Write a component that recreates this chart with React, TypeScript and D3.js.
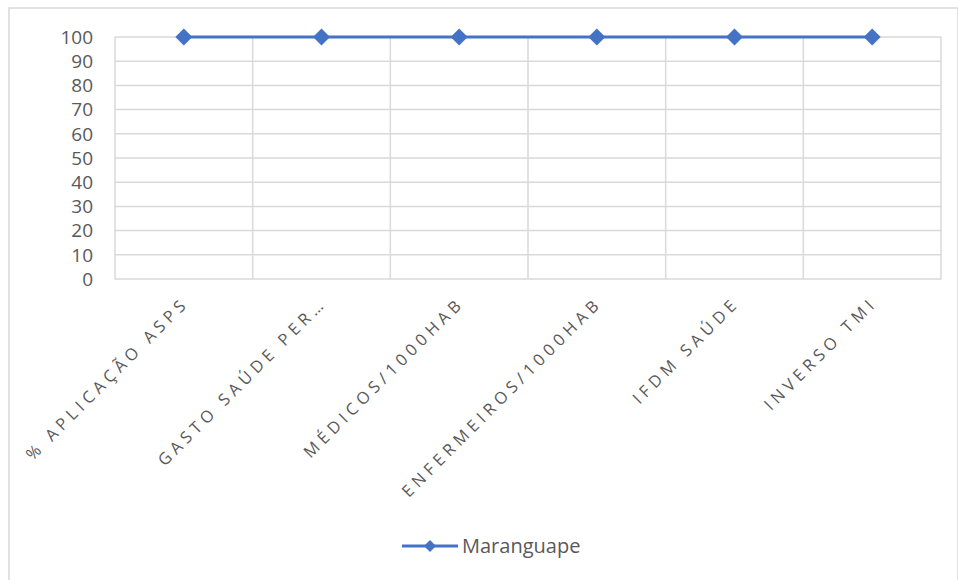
import React from "react";
import * as d3 from "d3";

const categories = [
  "% APLICAÇÃO ASPS",
  "GASTO SAÚDE PER…",
  "MÉDICOS/1000HAB",
  "ENFERMEIROS/1000HAB",
  "IFDM SAÚDE",
  "INVERSO TMI",
];
const seriesName = "Maranguape";
const values = [100, 100, 100, 100, 100, 100];
const yTicks = [0, 10, 20, 30, 40, 50, 60, 70, 80, 90, 100];

const W = 958;
const H = 580;
const plot = { left: 115, right: 941, top: 37, bottom: 279 };
const blue = "#4472C4";
const grid = "#D9D9D9";
const textColor = "#595959";
const font = "'Open Sans', 'Liberation Sans', sans-serif";

export default function App() {
  const x = d3.scaleBand<string>().domain(categories).range([plot.left, plot.right]).padding(0);
  const y = d3.scaleLinear().domain([0, 100]).range([plot.bottom, plot.top]);
  const cx = (c: string) => (x(c) as number) + x.bandwidth() / 2;
  const line = d3
    .line<number>()
    .x((_, i) => cx(categories[i]))
    .y((d) => y(d));
  const diamond = (s: number) => `M0,${-s} L${s},0 L0,${s} L${-s},0 Z`;
  const boundaries = categories.map((c) => x(c) as number).concat([plot.right]);

  return (
    <svg
      width={W}
      height={H}
      style={{ position: "absolute", left: 0, top: 0, background: "#fff" }}
      fontFamily={font}
    >
      <rect x={9} y={8} width={949} height={580} fill="#fff" stroke={grid} strokeWidth={1.5} />
      {yTicks.map((t) => (
        <line key={"h" + t} x1={plot.left} x2={plot.right} y1={y(t)} y2={y(t)} stroke={grid} strokeWidth={1.5} />
      ))}
      {boundaries.map((b, i) => (
        <line key={"v" + i} x1={b} x2={b} y1={plot.top} y2={plot.bottom} stroke={grid} strokeWidth={1.5} />
      ))}
      {yTicks.map((t) => (
        <text
          key={"t" + t}
          x={93}
          y={y(t)}
          dy="0.36em"
          textAnchor="end"
          fontSize={19}
          fill={textColor}
        >
          {t}
        </text>
      ))}
      {categories.map((c) => (
        <text
          key={"c" + c}
          transform={`translate(${cx(c) + 2},${300}) rotate(-45)`}
          textAnchor="end"
          dy="0.35em"
          fontSize={16.5}
          letterSpacing={4.6}
          fill={textColor}
        >
          {c}
        </text>
      ))}
      <path d={line(values) as string} fill="none" stroke={blue} strokeWidth={3} />
      {values.map((v, i) => (
        <path
          key={"m" + i}
          d={diamond(8.5)}
          transform={`translate(${cx(categories[i])},${y(v)})`}
          fill={blue}
        />
      ))}
      <g>
        <line x1={402} x2={458} y1={546} y2={546} stroke={blue} strokeWidth={3} />
        <path d={diamond(6)} transform="translate(430,546)" fill={blue} />
        <text x={462} y={553} fontSize={20} fill={textColor}>
          {seriesName}
        </text>
      </g>
    </svg>
  );
}
